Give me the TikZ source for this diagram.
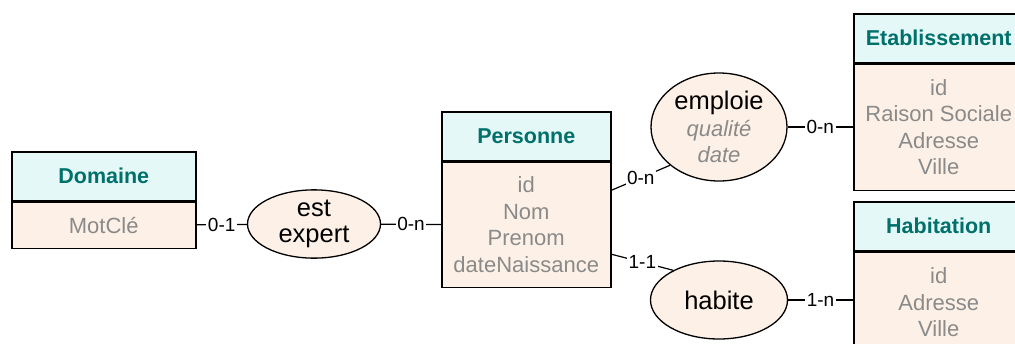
\documentclass[tikz,border=0pt]{standalone}
\usepackage{fontspec}
\setmainfont{Liberation Sans}
\usetikzlibrary{shapes.geometric}

\definecolor{enteteFond}{HTML}{E3F8F7}
\definecolor{corpsFond}{HTML}{FDF0E6}
\definecolor{titreCouleur}{HTML}{00706B}
\definecolor{attrCouleur}{HTML}{8A8A8A}

\tikzset{
  entete/.style={draw, line width=1.5pt, fill=enteteFond, text=titreCouleur,
    font=\bfseries\fontsize{21.5}{24}\selectfont, minimum height=49pt, inner sep=0pt},
  attributs/.style={draw, line width=1.5pt, fill=corpsFond, text=attrCouleur, align=center,
    font=\fontsize{22}{26.5}\selectfont, inner sep=0pt},
  assoc/.style={draw, ellipse, line width=1.3pt, fill=corpsFond, align=center,
    font=\fontsize{25.5}{26.5}\selectfont, inner sep=0pt},
  card/.style={fill=white, inner sep=1.5pt, font=\fontsize{19}{20}\selectfont},
  lien/.style={line width=1.2pt}
}

\begin{document}
\begin{tikzpicture}[x=1pt,y=-1pt]
  \path[use as bounding box, clip] (0,0) rectangle (1015,343);

  %% Entities: header box, then attribute box below it
  \foreach \nom/\x/\y/\w/\h/\titre/\attr in {
    domaine/11/151/184/46/Domaine/{MotClé},
    personne/441/111/169/125/Personne/{id\\Nom\\Prenom\\dateNaissance},
    etablissement/853/13/170/126/Etablissement/{id\\Raison Sociale\\Adresse\\Ville},
    habitation/853/201/170/100/Habitation/{id\\Adresse\\Ville}}
  {
    \node[entete, minimum width=\w pt, anchor=north west] (\nom) at (\x,\y) {\titre};
    \node[attributs, minimum width=\w pt, minimum height=\h pt, anchor=north]
      (\nom-att) at (\nom.south) {\attr};
  }

  %% Associations
  \node[assoc, minimum width=133pt, minimum height=68pt] (estexpert) at (314,224) {est\\expert};
  \node[assoc, minimum width=136pt, minimum height=108pt] (emploie) at (719,127)
    {emploie\\{\itshape\color{attrCouleur}\fontsize{22}{26.5}\selectfont qualité}\\
     {\itshape\color{attrCouleur}\fontsize{22}{26.5}\selectfont date}};
  \node[assoc, minimum width=137pt, minimum height=78pt] (habite) at (719,300) {habite};

  %% Links with cardinalities
  \draw[lien] (domaine-att) -- node[card] {0-1} (estexpert);
  \draw[lien] (estexpert) -- node[card] {0-n} (personne-att);
  \draw[lien] ([yshift=34.5pt]personne-att.east) -- node[card] {0-n} (emploie.218);
  \draw[lien] ([yshift=-29.5pt]personne-att.east) -- node[card] {1-1} (habite.147);
  \draw[lien] (emploie) -- node[card] {0-n} (emploie -| etablissement-att.west);
  \draw[lien] (habite) -- node[card] {1-n} (habite -| habitation-att.west);
\end{tikzpicture}
\end{document}
